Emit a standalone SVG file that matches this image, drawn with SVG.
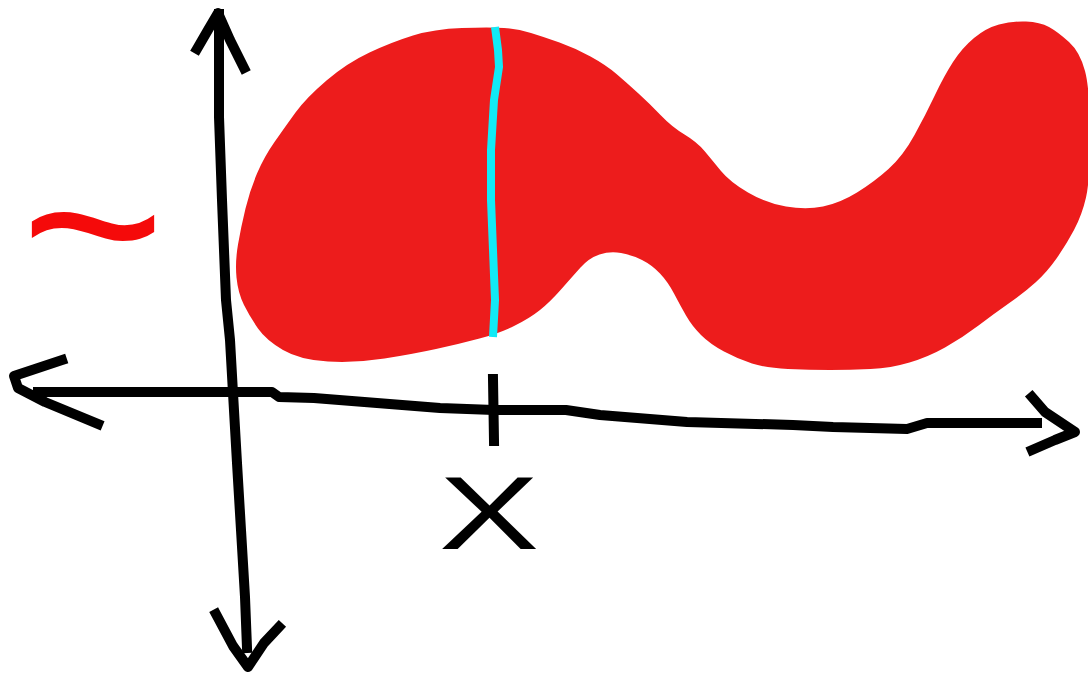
<svg xmlns="http://www.w3.org/2000/svg" width="1088" height="675" viewBox="0 0 1088 675">
<style>
.ax{fill:none;stroke:#000;stroke-width:10;stroke-linejoin:round;stroke-linecap:square}
.lbl{font-family:"Liberation Sans",Arial,sans-serif}
</style>
<rect width="1088" height="675" fill="#fff"/>
<g id="blob">
<path fill="#ED1C1C" d="M504,28 Q490,27 462,28 Q434,29 413,35.5 Q392,42 369.5,52.5 Q347,63 326.5,80.5 Q306,98 295.5,112.5 Q285,127 274.5,142 Q264,157 257,173.5 Q250,190 245.5,208.5 Q241,227 238,244.5 Q235,262 236.5,277.5 Q238,293 244,305 Q250,317 258,328.5 Q266,340 283,350 Q300,360 328,361.5 Q356,363 384.5,358.5 Q413,354 436,349 Q459,344 479.5,338.5 Q500,333 515,325.5 Q530,318 540,310 Q550,302 561,289.5 Q572,277 580.5,267.5 Q589,258 599.5,254.5 Q610,251 621,253 Q632,255 642,260 Q652,265 660,273.5 Q668,282 674,293.5 Q680,305 686,315.5 Q692,326 701,335 Q710,344 724,351.5 Q738,359 752,363.5 Q766,368 788,369 Q810,370 830,370 Q850,370 870.5,369 Q891,368 909.5,362.5 Q928,357 945,347.5 Q962,338 978.5,325.5 Q995,313 1010,302.5 Q1025,292 1036,282 Q1047,272 1056.5,258.5 Q1066,245 1074,230 Q1082,215 1086,197.5 Q1090,180 1090,135 Q1090,90 1085,71 Q1080,52 1069,42 Q1058,32 1049,27 Q1040,22 1026,21.5 Q1012,21 999,24.5 Q986,28 974,38 Q962,48 953,62 Q944,76 935,95 Q926,114 914.5,135 Q903,156 888.5,169 Q874,182 857,192.5 Q840,203 823,206.5 Q806,210 786,206.5 Q766,203 748,192.5 Q730,182 721,171 Q712,160 704.5,151 Q697,142 684.5,134.5 Q672,127 661,115.5 Q650,104 638.5,93.5 Q627,83 616.5,74 Q606,65 590.5,56.5 Q575,48 559.5,42.5 Q544,37 531,33 Q518,29 504,28 Z"/>
<path fill="none" stroke="#12EAF6" stroke-width="8" stroke-linejoin="round" d="M495,27 L498,50 L499,67 L494,100 L491,150 L491,200 L493,250 L495,300 L493,337"/>
</g>
<g id="axes">
<path class="ax" d="M219,14 L219,117 L222,200 L226,300 L230,340 L233,393 L237,463 L241,530 L245,597 L247,648"/>
<path class="ax" d="M197,49 L208,30 L218,13 L230,40 L244,68"/>
<path class="ax" d="M216,614 L233,646 L248,667 L264,643 L279,627"/>
<path class="ax" d="M38,392 L230,392 L272,392 L279,397 L314,398 L440,408 L494,410 L566,410 L600,415 L687,422 L793,425 L833,427 L907,429 L927,423 L1037,423"/>
<path class="ax" d="M62,360 L14,376 L18,388 L45,402 L98,424"/>
<path class="ax" d="M1032,397 L1045,412 L1075,432 L1055,440 L1032,450"/>
<path class="ax" d="M493,379 L494,441"/>
</g>
<g id="label-x">
<text class="lbl" transform="translate(489,549) scale(1.45,1)" text-anchor="middle" font-size="104" fill="#000">X</text>
</g>
<g id="label-tilde">
<text class="lbl" transform="translate(93,304) scale(2.75,2.6)" text-anchor="middle" font-size="90" fill="#F50A0A">~</text>
</g>
</svg>
